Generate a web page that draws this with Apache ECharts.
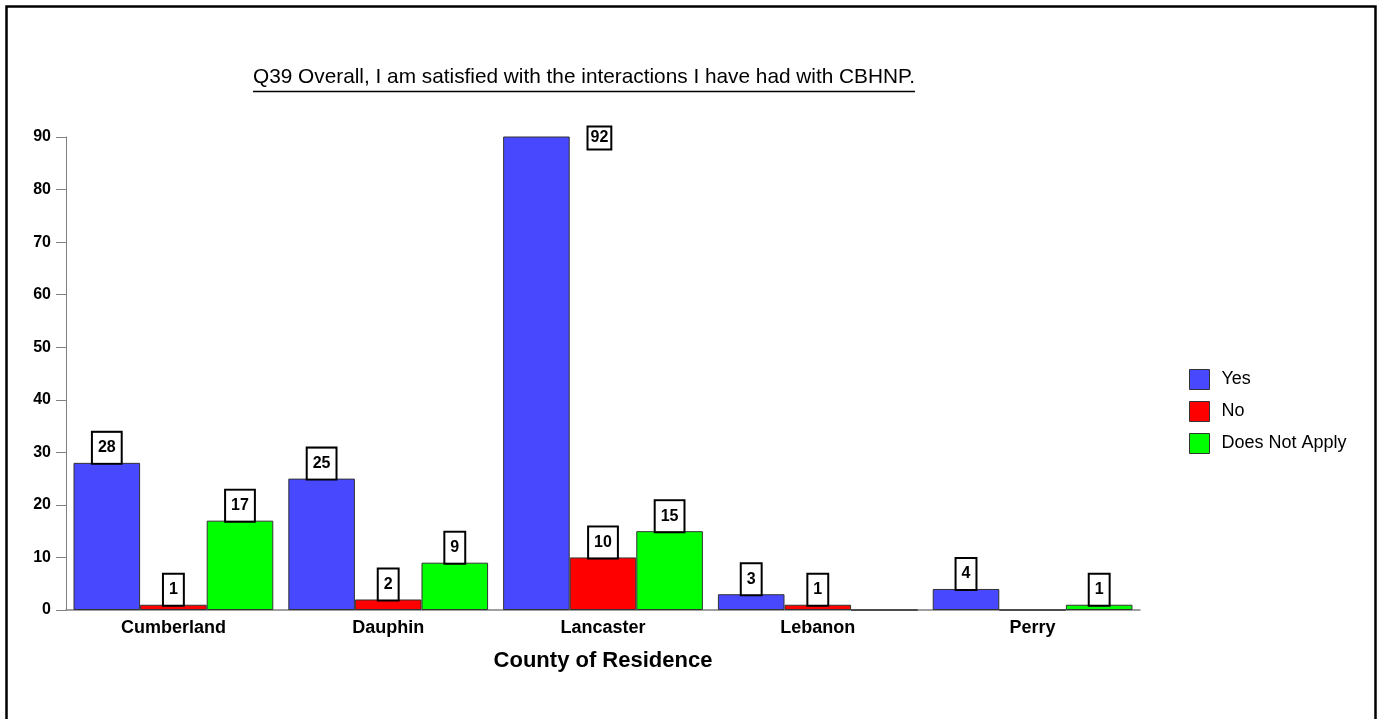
<!DOCTYPE html>
<html>
<head>
<meta charset="utf-8">
<script src="https://cdn.jsdelivr.net/npm/echarts@6/dist/echarts.min.js"></script>
<style>
  html, body { margin: 0; padding: 0; background: #fff; }
  #chart { width: 1378px; height: 719px; }
</style>
</head>
<body>
<div id="chart"></div>
<script>
// Survey responses by county
const titleText = 'Q39 Overall, I am satisfied with the interactions I have had with CBHNP.';
const counties = ['Cumberland', 'Dauphin', 'Lancaster', 'Lebanon', 'Perry'];
const yesValues = [28, 25, 92, 3, 4];
const noValues = [1, 2, 10, 1, 0];
const naValues = [17, 9, 15, 0, 1];
const seriesNames = ['Yes', 'No', 'Does Not Apply'];
const seriesColors = ['#4848FF', '#FF0000', '#00FF00'];
const yTicks = { min: 0, max: 90, interval: 10 };

const FONT = 'Liberation Sans, Arial, sans-serif';

const boxLabel = {
  show: true,
  position: 'top',
  distance: 0,
  color: '#000',
  fontFamily: FONT,
  fontWeight: 'bold',
  fontSize: 16,
  lineHeight: 14,
  backgroundColor: '#fff',
  borderColor: '#000',
  borderWidth: 2,
  padding: [8, 5]
};

// Values that run past the axis maximum get a compact label beside the clipped bar
function toItems(values) {
  return values.map(v => {
    if (v === 0) return { value: v, label: { show: false } };
    if (v > yTicks.max) {
      return {
        value: v,
        label: { offset: [63, 12], padding: [4, 2], lineHeight: 13 }
      };
    }
    return v;
  });
}

const allValues = [yesValues, noValues, naValues];

const chart = echarts.init(document.getElementById('chart'), null, { renderer: 'canvas' });

chart.setOption({
  animation: false,
  backgroundColor: '#fff',
  color: seriesColors,
  graphic: [
    {
      type: 'rect',
      shape: { x: 6.5, y: 6.5, width: 1369, height: 740 },
      style: { fill: 'none', stroke: '#000', lineWidth: 2.5 },
      silent: true
    },
    {
      type: 'text',
      x: 584,
      y: 77,
      style: {
        text: titleText,
        fill: '#000',
        font: '20.8px ' + FONT,
        align: 'center',
        verticalAlign: 'middle'
      },
      silent: true
    },
    {
      type: 'line',
      shape: { x1: 253, y1: 91.5, x2: 915, y2: 91.5 },
      style: { stroke: '#000', lineWidth: 1.5 },
      silent: true
    }
  ],
  legend: {
    orient: 'vertical',
    left: 1189,
    top: 369,
    padding: 0,
    itemWidth: 20,
    itemHeight: 20,
    itemGap: 11,
    icon: 'rect',
    itemStyle: { borderColor: '#333', borderWidth: 1 },
    textStyle: { fontFamily: FONT, fontSize: 18, lineHeight: 20, color: '#000', padding: [0, 0, 0, 7] },
    data: seriesNames
  },
  grid: { left: 66, right: 238, top: 137, bottom: 109, containLabel: false },
  xAxis: {
    type: 'category',
    data: counties,
    name: 'County of Residence',
    nameLocation: 'middle',
    nameGap: 40,
    nameTextStyle: { fontFamily: FONT, fontWeight: 'bold', fontSize: 22, color: '#000' },
    axisLine: { lineStyle: { color: '#808080', width: 1.5 } },
    axisTick: { show: false },
    axisLabel: { fontFamily: FONT, fontWeight: 'bold', fontSize: 18, color: '#000', margin: 9 }
  },
  yAxis: {
    type: 'value',
    min: yTicks.min,
    max: yTicks.max,
    interval: yTicks.interval,
    axisLine: { show: true, lineStyle: { color: '#808080', width: 1 } },
    axisTick: { show: true, length: 10, lineStyle: { color: '#808080' } },
    splitLine: { show: false },
    axisLabel: { fontFamily: FONT, fontWeight: 'bold', fontSize: 16, color: '#000', margin: 15 }
  },
  series: seriesNames.map((name, i) => ({
    name,
    type: 'bar',
    clip: true,
    barGap: '0%',
    barCategoryGap: '7%',
    itemStyle: { color: seriesColors[i], borderColor: '#333', borderWidth: 1 },
    label: boxLabel,
    data: toItems(allValues[i])
  }))
});
</script>
</body>
</html>
